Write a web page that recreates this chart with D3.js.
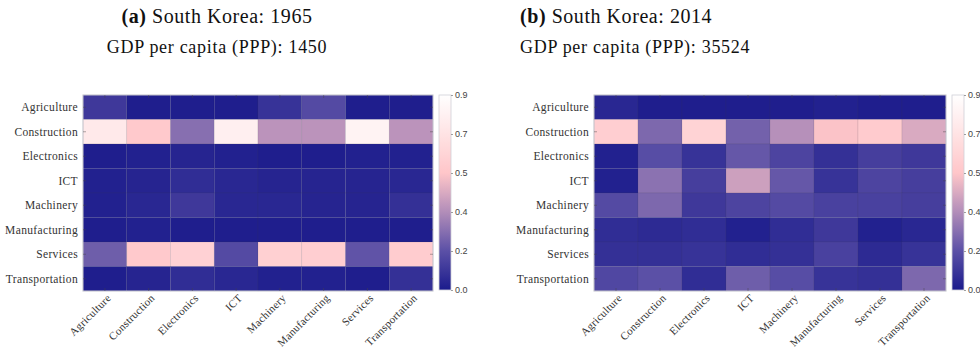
<!DOCTYPE html>
<html>
<head>
<meta charset="utf-8">
<script src="https://cdn.jsdelivr.net/npm/d3@7"></script>
<style>
  html, body { margin: 0; padding: 0; background: #fff; }
  svg { display: block; }
</style>
</head>
<body>
<svg id="chart" width="980" height="351"></svg>
<script>
// Sector categories (rows = source, columns = destination)
const sectors = ["Agriculture", "Construction", "Electronics", "ICT",
                 "Machinery", "Manufacturing", "Services", "Transportation"];

// South Korea 1965 input shares, one array per row
const korea1965 = [
  [0.10, 0.01, 0.01, 0.01, 0.08, 0.16, 0.01, 0.01],
  [0.76, 0.56, 0.27, 0.80, 0.38, 0.38, 0.82, 0.38],
  [0.01, 0.02, 0.03, 0.02, 0.01, 0.01, 0.02, 0.02],
  [0.02, 0.03, 0.06, 0.04, 0.03, 0.03, 0.03, 0.04],
  [0.02, 0.04, 0.10, 0.04, 0.04, 0.03, 0.03, 0.07],
  [0.01, 0.02, 0.01, 0.01, 0.01, 0.01, 0.01, 0.01],
  [0.22, 0.56, 0.61, 0.16, 0.60, 0.59, 0.19, 0.58],
  [0.01, 0.03, 0.06, 0.04, 0.02, 0.02, 0.01, 0.07]
];

// South Korea 2014 input shares
const korea2014 = [
  [0.04, 0.01, 0.01, 0.01, 0.01, 0.02, 0.01, 0.01],
  [0.59, 0.25, 0.62, 0.23, 0.37, 0.53, 0.57, 0.45],
  [0.02, 0.17, 0.08, 0.20, 0.14, 0.07, 0.12, 0.10],
  [0.02, 0.28, 0.12, 0.42, 0.20, 0.08, 0.14, 0.12],
  [0.16, 0.25, 0.10, 0.14, 0.16, 0.13, 0.13, 0.12],
  [0.06, 0.05, 0.06, 0.02, 0.06, 0.10, 0.02, 0.04],
  [0.07, 0.07, 0.08, 0.06, 0.07, 0.13, 0.05, 0.08],
  [0.15, 0.18, 0.06, 0.22, 0.17, 0.08, 0.07, 0.25]
];

// Colour bar range and tick labels (6 evenly spaced ticks over 0–0.9)
const colorDomain = [0, 0.9];
const colorTicks = [0, 0.18, 0.36, 0.54, 0.72, 0.9];

const titles = [
  { tag: "(a)", title: " South Korea: 1965", sub: "GDP per capita (PPP): 1450" },
  { tag: "(b)", title: " South Korea: 2014", sub: "GDP per capita (PPP): 35524" }
];

const color = d3.scaleLinear()
  .domain([0, 0.18, 0.36, 0.54, 0.72, 0.9])
  .range(["#1b1b8c", "#5b50a6", "#b28db9", "#ffc6c9", "#ffe3e4", "#ffffff"])
  .clamp(true);

const svg = d3.select("#chart");

const panels = [
  { data: korea1965, x0: 83,  x1: 433, y0: 95, y1: 291, cbx: 439,
    titleX: 217, anchor: "middle", info: titles[0] },
  { data: korea2014, x0: 594, x1: 946, y0: 95, y1: 291, cbx: 952,
    titleX: 520, anchor: "start", info: titles[1] }
];

const serif = "'Liberation Serif', 'DejaVu Serif', serif";
const sans = "'Liberation Sans', Arial, sans-serif";

panels.forEach((p, pi) => {
  const g = svg.append("g");

  // Titles
  const t1 = g.append("text")
    .attr("x", p.titleX).attr("y", 23)
    .attr("text-anchor", p.anchor)
    .attr("font-family", serif).attr("font-size", 20)
    .attr("letter-spacing", 0.55).attr("fill", "#111");
  t1.append("tspan").attr("font-weight", "bold").text(p.info.tag);
  t1.append("tspan").text(p.info.title);

  g.append("text")
    .attr("x", p.titleX).attr("y", 53)
    .attr("text-anchor", p.anchor)
    .attr("font-family", serif).attr("font-size", 18)
    .attr("letter-spacing", 0.7).attr("fill", "#111")
    .text(p.info.sub);

  const x = d3.scaleBand().domain(sectors).range([p.x0, p.x1]);
  const y = d3.scaleBand().domain(sectors).range([p.y0, p.y1]);

  // Cells
  const cells = [];
  p.data.forEach((row, ri) => row.forEach((v, ci) =>
    cells.push({ r: sectors[ri], c: sectors[ci], v })));

  g.append("g").selectAll("rect")
    .data(cells).join("rect")
    .attr("x", d => x(d.c)).attr("y", d => y(d.r))
    .attr("width", x.bandwidth()).attr("height", y.bandwidth())
    .attr("fill", d => color(d.v))
    .attr("stroke", "rgba(60,60,90,0.18)").attr("stroke-width", 0.6);

  // Frame
  g.append("rect")
    .attr("x", p.x0).attr("y", p.y0)
    .attr("width", p.x1 - p.x0).attr("height", p.y1 - p.y0)
    .attr("fill", "none").attr("stroke", "#c8c8d0").attr("stroke-width", 1);

  // Inner tick marks on all four sides
  const tickCol = "rgba(70,70,70,0.55)";
  sectors.forEach(s => {
    const cx = x(s) + x.bandwidth() / 2;
    const cy = y(s) + y.bandwidth() / 2;
    g.append("line").attr("x1", cx).attr("x2", cx).attr("y1", p.y0).attr("y2", p.y0 + 3)
      .attr("stroke", tickCol).attr("stroke-width", 0.8);
    g.append("line").attr("x1", cx).attr("x2", cx).attr("y1", p.y1).attr("y2", p.y1 - 3)
      .attr("stroke", tickCol).attr("stroke-width", 0.8);
    g.append("line").attr("y1", cy).attr("y2", cy).attr("x1", p.x0).attr("x2", p.x0 + 3)
      .attr("stroke", tickCol).attr("stroke-width", 0.8);
    g.append("line").attr("y1", cy).attr("y2", cy).attr("x1", p.x1).attr("x2", p.x1 - 3)
      .attr("stroke", tickCol).attr("stroke-width", 0.8);
  });

  // Row labels
  g.append("g").selectAll("text")
    .data(sectors).join("text")
    .attr("x", p.x0 - 5)
    .attr("y", d => y(d) + y.bandwidth() / 2)
    .attr("dy", "0.35em")
    .attr("text-anchor", "end")
    .attr("font-family", serif).attr("font-size", 11.5)
    .attr("letter-spacing", 0.35).attr("fill", "#333")
    .text(d => d);

  // Column labels, rotated
  g.append("g").selectAll("text")
    .data(sectors).join("text")
    .attr("transform", d => `translate(${x(d) + x.bandwidth() / 2 + 4},${p.y1 + 5}) rotate(-45)`)
    .attr("dy", "0.35em")
    .attr("text-anchor", "end")
    .attr("font-family", serif).attr("font-size", 11)
    .attr("letter-spacing", 0.25).attr("fill", "#333")
    .text(d => d);

  // Colour bar
  const cbY = d3.scaleLinear().domain(colorDomain).range([p.y1 - 1, p.y0]);
  const gradId = "cbgrad" + pi;
  const grad = svg.append("defs").append("linearGradient")
    .attr("id", gradId).attr("x1", 0).attr("y1", 1).attr("x2", 0).attr("y2", 0);
  d3.range(0, 1.0001, 0.05).forEach(t => {
    grad.append("stop").attr("offset", t)
      .attr("stop-color", color(colorDomain[0] + t * (colorDomain[1] - colorDomain[0])));
  });
  const cbW = 12;
  g.append("rect")
    .attr("x", p.cbx).attr("y", p.y0)
    .attr("width", cbW).attr("height", p.y1 - 1 - p.y0)
    .attr("fill", `url(#${gradId})`)
    .attr("stroke", "#d0d0d8").attr("stroke-width", 0.8);

  const cbAxis = d3.axisRight(cbY)
    .tickValues(colorTicks)
    .tickSize(2)
    .tickFormat(d3.format(".1f"));
  const ag = g.append("g")
    .attr("transform", `translate(${p.cbx + cbW},0)`)
    .call(cbAxis);
  ag.select(".domain").remove();
  ag.selectAll("line").attr("stroke", "#777").attr("stroke-width", 0.7);
  ag.selectAll("text")
    .attr("font-family", sans).attr("font-size", 9).attr("fill", "#444")
    .attr("x", 4);
});
</script>
</body>
</html>
